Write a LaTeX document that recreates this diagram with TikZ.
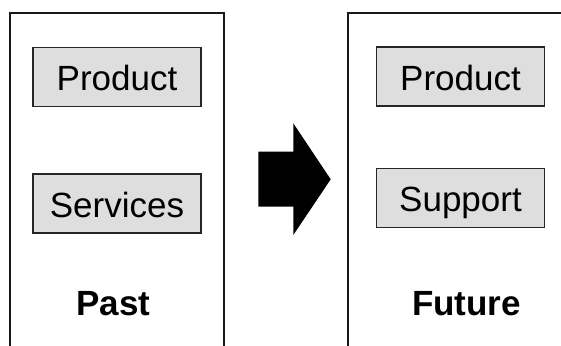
\documentclass[tikz,border=0pt]{standalone}
\usepackage{fontspec}
\setmainfont{Liberation Sans}
\begin{document}
\begin{tikzpicture}[x=1pt,y=-1pt,
  panel/.style={draw=black!90,line width=2pt},
  itembox/.style={draw=black!85,line width=1.6pt,fill=black!13,minimum width=168pt,minimum height=59pt,
    inner sep=0pt,font=\fontsize{35}{40}\selectfont,text height=25pt,text depth=0pt,anchor=center},
  caption/.style={font=\fontsize{35}{40}\selectfont\bfseries,anchor=base,inner sep=0pt}]
\useasboundingbox (0,0) rectangle (561,345);
\clip (0,0) rectangle (561,345);
\draw[panel] (10,12.7) rectangle (224.3,360);
\draw[panel] (348.3,12.7) rectangle (600,360);
\node[itembox] (p1) at (117,77) {\raisebox{-1pt}{Product}};
\node[itembox] (s1) at (117,203.5) {\raisebox{-1pt}{Services}};
\node[itembox] (p2) at (460.5,76.5) {\raisebox{-1pt}{Product}};
\node[itembox] (s2) at (460.5,198) {\raisebox{-1pt}{Support}};
\node[caption] (past) at (113.5,315) {Past};
\node[caption] (future) at (466.5,315) {Future};
\fill[black] (258.3,151.7) -- (293.3,151.7) -- (293.3,123.3) -- (330.7,179.3) -- (293.3,235) -- (293.3,206.7) -- (258.3,206.7) -- cycle;
\end{tikzpicture}
\end{document}
